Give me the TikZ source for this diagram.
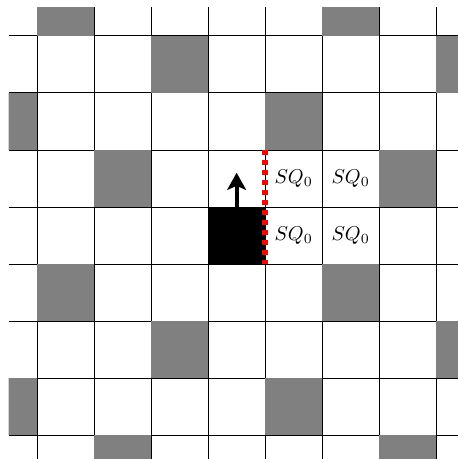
\documentclass[tikz,border=0pt]{standalone}
\usetikzlibrary{arrows.meta}

\begin{document}
\begin{tikzpicture}[
	gridline/.style={black, line width=0.45pt},
	occupied/.style={fill=black!50},
	robot/.style={
		rectangle,
		fill=black,
		minimum size=1cm,
		inner sep=0pt
	},
	heading/.style={-{Stealth[length=3mm, width=3.3mm, inset=0.7mm]}, line width=2pt, black},
	frontier/.style={red, line width=3pt, dash pattern=on 2.5pt off 2.5pt},
	sqlabel/.style={font=\normalsize, inner sep=0pt}
]
\useasboundingbox (-0.65,0.63) rectangle (7.37,-7.42);
\clip (-0.5,0.5) rectangle (7.5,-7.5);

\draw[gridline, step=1] (-0.5,-7.5) grid (7.5,0.5);

% obstacle cells (column/row from the top)
\foreach \i/\j in {0/-1,5/-1,2/0,7/0,-1/1,4/1,1/2,6/2,0/4,5/4,2/5,7/5,-1/6,4/6,1/7,6/7}
	\fill[occupied] (\i,-\j) rectangle ++(1,-1);

\node[robot] (bot) at (3.5,-3.5) {};
\coordinate (head) at (3.5,-2.4);
\coordinate (ftop) at (4,-2);
\coordinate (fbot) at (4,-4);

\node[sqlabel] (sqa) at (4.5,-2.5) {$SQ_0$};
\node[sqlabel] (sqb) at (5.5,-2.5) {$SQ_0$};
\node[sqlabel] (sqc) at (4.5,-3.5) {$SQ_0$};
\node[sqlabel] (sqd) at (5.5,-3.5) {$SQ_0$};

\draw[heading] (bot.north) -- (head);
\draw[frontier] (ftop) -- (fbot);
\end{tikzpicture}
\end{document}
